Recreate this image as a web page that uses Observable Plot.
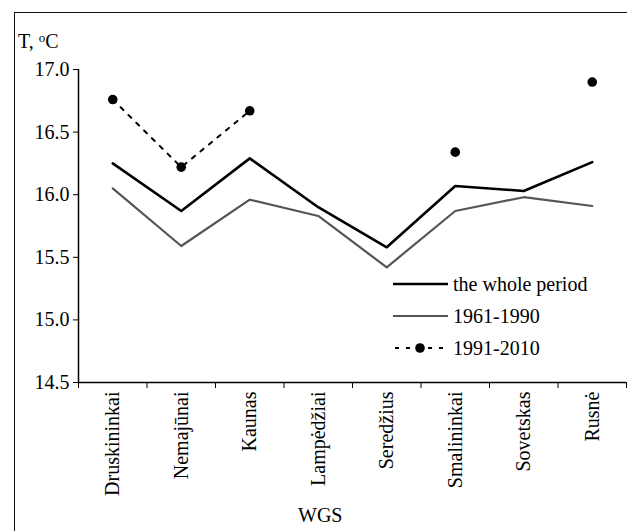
<!DOCTYPE html>
<html><head><meta charset="utf-8">
<script src="https://cdn.jsdelivr.net/npm/d3@7"></script>
<script src="https://cdn.jsdelivr.net/npm/@observablehq/plot@0.6"></script>
<style>
body{margin:0;background:#fff;font-family:"Liberation Serif","Times New Roman",serif;}
#wrap{position:relative;width:627px;height:531px;overflow:hidden;}
#frame{position:absolute;left:14px;top:12px;width:640px;height:560px;border:1.5px solid #111;box-sizing:border-box;pointer-events:none;}
.lbl{position:absolute;font-size:20px;color:#000;white-space:nowrap;}
#legend{position:absolute;left:392px;top:268px;font-size:20px;line-height:32px;}
#legend div{display:flex;align-items:center;height:32px;}
#legend svg{margin-right:4px;}
</style></head>
<body><div id="wrap"><div id="chart"></div><div id="frame"></div>
<div class="lbl" id="ylab" style="left:18px;top:30px;">T, <sup style="font-size:13px;vertical-align:6px">o</sup>C</div>
<div class="lbl" id="xlab" style="left:298px;top:504px;">WGS</div>
<div id="legend"></div></div>
<script>
const stations = ["Druskininkai","Nemajūnai","Kaunas","Lampėdžiai","Seredžius","Smalininkai","Sovetskas","Rusnė"];
const wholePeriod = [16.25,15.87,16.29,15.90,15.58,16.07,16.03,16.26];
const p1961_1990 = [16.05,15.59,15.96,15.83,15.42,15.87,15.98,15.91];
const p1991_2010 = [16.76,16.22,16.67,null,null,16.34,null,16.90];
const seriesNames = ["the whole period","1961-1990","1991-2010"];
const yTicks = [14.5,15.0,15.5,16.0,16.5,17.0];

const idx = stations.map((s,i)=>i);
const bounds = d3.range(stations.length+1).map(i=>i-0.5);
const rows = (vals)=>idx.map(i=>({i, v: vals[i]}));

const chart = Plot.plot({
  width: 627, height: 531,
  marginLeft: 78, marginRight: 1, marginTop: 69, marginBottom: 149,
  style: {fontSize: "20px", color: "#000", background: "transparent"},
  x: {domain: [-0.5, stations.length-0.5], axis: null},
  y: {domain: [14.5, 17], axis: null},
  marks: [
    Plot.axisY(yTicks, {tickSize: 5, tickPadding: 4, tickFormat: d3.format(".1f"), fontSize: 20, fontFamily: "serif", label: null, stroke: "#000"}),
    Plot.axisX(bounds, {tickSize: 6, tickFormat: () => "", label: null, stroke: "#000"}),
    Plot.ruleX([-0.5], {stroke: "#000", strokeWidth: 1.5}),
    Plot.ruleY([14.5], {stroke: "#000", strokeWidth: 1.5}),
    Plot.text(idx, {x: d=>d, y: ()=>14.5, text: d=>stations[d], rotate: -90, textAnchor: "end", lineAnchor: "middle", dy: 9, fontSize: 20, fontFamily: "Liberation Serif", fill: "#000"}),
    Plot.line(rows(p1961_1990), {x: "i", y: "v", stroke: "#555", strokeWidth: 2.2}),
    Plot.line(rows(wholePeriod), {x: "i", y: "v", stroke: "#000", strokeWidth: 2.6}),
    Plot.line(rows(p1991_2010), {x: "i", y: "v", stroke: "#000", strokeWidth: 2, strokeDasharray: "4,7"}),
    Plot.dot(rows(p1991_2010).filter(d=>d.v!=null), {x: "i", y: "v", r: 4.8, fill: "#000", stroke: "none"})
  ]
});
document.getElementById("chart").appendChild(chart);

const styles = [
  {stroke:"#000", w:2.6, dash:null, dot:false},
  {stroke:"#555", w:2.2, dash:null, dot:false},
  {stroke:"#000", w:2, dash:"4,7", dot:true}
];
const leg = document.getElementById("legend");
seriesNames.forEach((n,k)=>{
  const s = styles[k];
  const row = document.createElement("div");
  row.innerHTML = `<svg width="57" height="12"><line x1="1" y1="6" x2="56" y2="6" stroke="${s.stroke}" stroke-width="${s.w}" ${s.dash?`stroke-dasharray="${s.dash}" stroke-dashoffset="-2"`:""}/>${s.dot?`<circle cx="28" cy="6" r="4.8" fill="#000"/>`:""}</svg><span>${n}</span>`;
  leg.appendChild(row);
});
</script></body></html>
